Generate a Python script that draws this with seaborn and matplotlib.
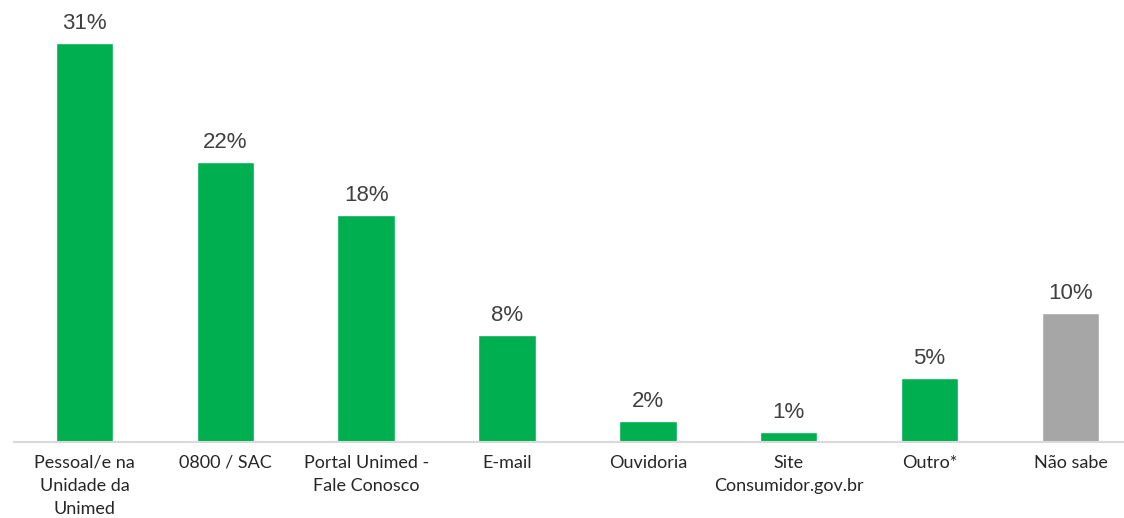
import matplotlib
matplotlib.use("Agg")
import matplotlib.pyplot as plt
import seaborn as sns
import pandas as pd

categories = ["Pessoal/e na\nUnidade da\nUnimed", "0800 / SAC", "Portal Unimed -\nFale Conosco",
              "E-mail", "Ouvidoria", "Site\nConsumidor.gov.br", "Outro*", "Não sabe"]
values = [31, 21.7, 17.6, 8.3, 1.6, 0.8, 5, 10]
labels = ["31%", "22%", "18%", "8%", "2%", "1%", "5%", "10%"]
colors = ["#00B050"] * 7 + ["#A6A6A6"]

sns.set_theme(style="white")
plt.rcParams["font.family"] = ["Liberation Sans", "DejaVu Sans"]

df = pd.DataFrame({"cat": categories, "val": values})

fig = plt.figure(figsize=(11.24, 5.18), dpi=100)
ax = fig.add_axes([14/1124, 76/518, 1110/1124, 442/518])
sns.barplot(data=df, x="cat", y="val", hue="cat", palette=colors, legend=False,
            width=0.407, ax=ax, saturation=1)

for i, (v, t) in enumerate(zip(values, labels)):
    ax.text(i, v + 0.7, t, ha="center", va="bottom", fontsize=16, color="#404040")

ax.set_xlim(-0.5, 7.38)
ax.set_ylim(0, 34.3)
ax.set_xlabel("")
ax.set_ylabel("")
ax.set_yticks([])
for s in ["top", "right", "left"]:
    ax.spines[s].set_visible(False)
ax.spines["bottom"].set_color("#D9D9D9")
ax.spines["bottom"].set_linewidth(1.5)
ax.tick_params(axis="x", length=0, pad=9)
for lab in ax.get_xticklabels():
    lab.set_fontfamily(["Lato", "DejaVu Sans"])
    lab.set_fontsize(13)
    lab.set_color("#262626")
    lab.set_linespacing(1.55)

fig.savefig("out.png", dpi=100)
